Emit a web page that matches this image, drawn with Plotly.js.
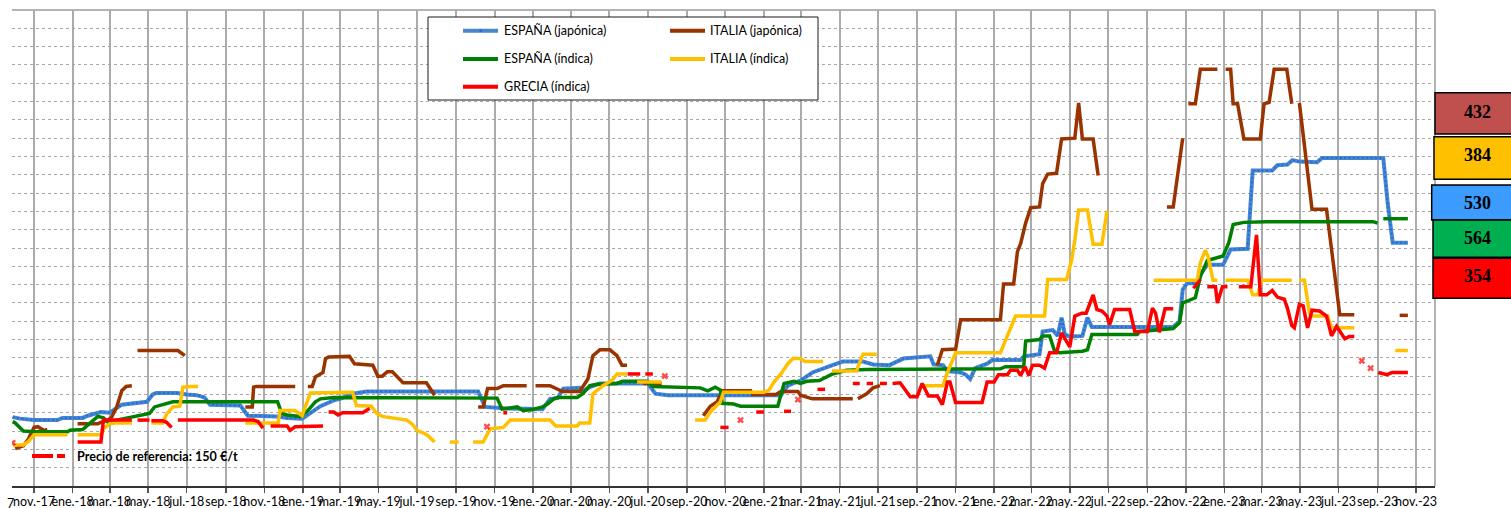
<!DOCTYPE html>
<html>
<head>
<meta charset="utf-8">
<script src="https://cdn.plot.ly/plotly-3.0.1.min.js"></script>
<style>html,body{margin:0;padding:0;background:#fff;overflow:hidden}#chart{width:1511px;height:508px}</style>
</head>
<body>
<div id="chart"></div>
<script>
// ---------------- DATA ----------------
const tickLabels = ["nov.-17","ene.-18","mar.-18","may.-18","jul.-18","sep.-18","nov.-18","ene.-19","mar.-19","may.-19","jul.-19","sep.-19","nov.-19","ene.-20","mar.-20","may.-20","jul.-20","sep.-20","nov.-20","ene.-21","mar.-21","may.-21","jul.-21","sep.-21","nov.-21","ene.-22","mar.-22","may.-22","jul.-22","sep.-22","nov.-22","ene.-23","mar.-23","may.-23","jul.-23","sep.-23","nov.-23"];

const seriesNames = ["ESPAÑA (japónica)","ITALIA (japónica)","ESPAÑA (índica)","ITALIA (índica)","GRECIA (índica)"];
const refLabel = "Precio de referencia: 150 €/t";
const lastValues = ["432","384","530","564","354"];

const espJapDates = ['2017-09-28','2017-10-10','2017-11-01','2017-12-08','2017-12-16','2018-01-17','2018-01-25','2018-02-15','2018-03-01','2018-03-20','2018-04-29','2018-05-08','2018-05-14','2018-06-16','2018-07-01','2018-07-17','2018-07-29','2018-08-07','2018-09-24','2018-10-06','2018-11-22','2018-12-07','2018-12-31','2019-01-13','2019-01-29','2019-02-19','2019-03-01','2019-03-21','2019-04-01','2019-04-12','2019-10-06','2019-10-17','2019-11-21','2020-01-16','2020-01-28','2020-02-09','2020-02-18','2020-03-15','2020-03-20','2020-03-31','2020-04-16','2020-07-01','2020-07-13','2020-08-02','2021-01-28','2021-02-08','2021-02-28','2021-03-19','2021-04-20','2021-05-06','2021-06-07','2021-06-23','2021-07-19','2021-08-10','2021-09-22','2021-09-27','2021-10-12','2021-10-19','2021-11-09','2021-11-17','2021-11-24','2021-12-02','2021-12-21','2021-12-29','2022-02-12','2022-02-17','2022-03-14','2022-03-19','2022-04-04','2022-04-12','2022-04-18','2022-04-23','2022-05-01','2022-05-21','2022-05-29','2022-06-05','2022-10-12','2022-10-15','2022-10-22','2022-10-27','2022-11-03','2022-11-16','2022-11-24','2022-12-05','2022-12-30','2023-01-11','2023-02-07','2023-02-15','2023-03-18','2023-03-26','2023-04-11','2023-04-19','2023-04-30','2023-05-28','2023-06-05','2023-09-10','2023-09-17','2023-09-25','2023-10-19'];
const espJapVals = [294,292,290,290,293,293,296,301,300,311, 315,325,327,327,325,324,321,311,310,296, 295,293,292,300,309,317,319,326,327,329, 329,308,306,305,319,320,333,334,329,335, 340,340,326,324,324,337,344,355,365,370, 370,366,365,374,377,366,365,357,355,352, 346,361,367,372,372,377,380,411,413,405, 430,407,404,405,430,417,417,419,425,468, 477,477,489,502,502,523,524,631,631,638, 639,645,643,642,648,648,586,532,532];

const itaJapDates = ['2017-10-02','2017-10-15','2017-10-23','2017-11-01','2017-11-07','2017-11-16','2017-11-22','2017-12-01','2018-01-09','2018-02-10','2018-02-15','2018-02-26','2018-03-04','2018-03-12','2018-03-20','2018-03-27','2018-04-05','2018-04-10','2018-04-14','2018-06-17','2018-06-28','2018-08-01','2018-10-02','2018-10-13','2018-10-15','2018-10-20','2018-12-20','2018-12-31','2019-01-09','2019-01-16','2019-01-21','2019-02-02','2019-02-06','2019-02-11','2019-03-16','2019-03-24','2019-04-22','2019-04-30','2019-05-07','2019-05-15','2019-05-23','2019-06-09','2019-07-16','2019-07-29','2019-08-15','2019-10-06','2019-10-14','2019-10-21','2019-11-05','2019-11-15','2019-12-22','2019-12-29','2020-01-05','2020-01-28','2020-02-17','2020-03-15','2020-03-28','2020-04-05','2020-04-16','2020-05-02','2020-05-13','2020-05-21','2020-05-29','2020-06-10','2020-06-24','2020-07-23','2020-08-15','2020-09-27','2020-10-08','2020-10-19','2020-10-27','2020-12-11','2020-12-14','2021-01-20','2021-01-28','2021-02-24','2021-02-28','2021-03-19','2021-05-22','2021-05-26','2021-05-30','2021-06-13','2021-06-23','2021-07-04','2021-08-01','2021-10-03','2021-10-11','2021-11-01','2021-11-09','2022-01-11','2022-01-16','2022-02-01','2022-02-07','2022-02-12','2022-02-20','2022-02-28','2022-03-14','2022-03-19','2022-03-27','2022-04-10','2022-04-18','2022-05-09','2022-05-15','2022-05-21','2022-06-07','2022-06-15','2022-07-01','2022-10-02','2022-10-12','2022-10-27','2022-11-01','2022-11-05','2022-11-16','2022-11-24','2022-12-21','2022-12-27','2023-01-03','2023-01-11','2023-01-15','2023-01-22','2023-02-01','2023-02-27','2023-03-05','2023-03-13','2023-03-21','2023-04-10','2023-04-18','2023-04-24','2023-04-30','2023-05-20','2023-06-12','2023-07-03','2023-07-26','2023-08-15','2023-10-06','2023-10-19'];
const itaJapVals = [251,255,264,280,281,276,277,null,285,285,287,290,294,308,330,336,337,null,385,385,378,null,308,308,335,336,336,null,336,336,349,355,374,376,377,367,365,350,350,356,356,341,341,324,null,308,308,333,333,337,337,null,337,337,329,329,346,378,386,386,378,365,365,null,340,340,null,296,309,315,330,330,325,325,329,329,324,319,319,null,319,326,334,337,null,365,386,387,427,427,476,476,520,531,559,580,581,613,626,627,674,675,723,674,674,624,null,581,581,675,null,722,722,769,769,null,769,769,722,722,674,674,722,724,769,769,722,null,723,578,578,434,434,null,433,433];

const espIndDates = ['2017-09-28','2017-10-02','2017-10-15','2017-11-01','2017-12-24','2017-12-28','2018-01-17','2018-01-30','2018-02-10','2018-02-19','2018-03-01','2018-03-12','2018-04-07','2018-05-03','2018-05-11','2018-05-19','2018-05-30','2018-06-09','2018-11-22','2018-11-29','2018-12-07','2018-12-28','2019-01-09','2019-01-21','2019-01-29','2019-02-19','2019-11-05','2019-11-13','2019-12-07','2019-12-16','2019-12-30','2020-01-16','2020-01-24','2020-02-03','2020-02-09','2020-03-11','2020-03-20','2020-03-31','2020-04-12','2020-05-13','2020-05-22','2020-07-01','2020-07-09','2020-09-22','2020-10-04','2020-10-16','2020-10-24','2020-10-27','2020-11-14','2020-11-25','2021-01-23','2021-02-02','2021-02-18','2021-02-28','2021-03-10','2021-03-30','2021-04-20','2021-05-12','2021-06-13','2022-01-11','2022-01-19','2022-02-17','2022-02-20','2022-03-14','2022-03-19','2022-03-30','2022-04-07','2022-04-15','2022-05-21','2022-05-29','2022-06-05','2022-08-16','2022-08-20','2022-10-12','2022-10-22','2022-10-27','2022-11-16','2022-11-24','2022-12-05','2022-12-30','2023-01-08','2023-01-15','2023-02-01','2023-03-09','2023-08-25','2023-09-01','2023-09-05','2023-09-10','2023-10-19'];
const espIndVals = [288,286,275,274,274,276,277,287,295,293, 285,290,295,299,308,310,312,315,315,299, 297,295,303,315,319,321,320,305,308,303, 304,308,312,319,321,321,326,337,339,340, 343,343,336,334,330,335,331,313,312,309, 309,340,343,340,343,344,353,358,359,360, 363,363,398,400,405,405,384,382,384,386, 407,407,411,415,423,450,457,486,508,514, 532,557,560,561,561,559,null,565,565];

const itaIndDates = ['2017-09-28','2017-10-15','2017-10-23','2017-11-01','2017-12-24','2017-12-31','2018-01-09','2018-02-15','2018-02-19','2018-03-01','2018-03-09','2018-04-05','2018-04-20','2018-05-06','2018-05-24','2018-05-30','2018-06-09','2018-06-20','2018-06-25','2018-07-06','2018-07-19','2018-08-15','2018-10-02','2018-11-23','2018-11-26','2018-12-20','2018-12-31','2019-01-09','2019-01-13','2019-03-21','2019-03-27','2019-04-20','2019-04-28','2019-05-07','2019-06-04','2019-06-15','2019-06-24','2019-07-02','2019-07-10','2019-07-18','2019-07-29','2019-08-10','2019-08-22','2019-09-05','2019-09-15','2019-09-28','2019-10-14','2019-10-25','2019-11-15','2019-11-26','2020-01-28','2020-02-06','2020-03-11','2020-03-15','2020-03-31','2020-04-05','2020-04-21','2020-05-06','2020-05-13','2020-05-29','2020-06-06','2020-06-14','2020-07-23','2020-08-15','2020-09-14','2020-09-30','2020-10-08','2020-10-16','2020-10-24','2020-10-29','2021-01-01','2021-01-09','2021-01-17','2021-01-28','2021-02-08','2021-02-16','2021-02-28','2021-03-07','2021-04-05','2021-04-12','2021-04-19','2021-05-28','2021-06-02','2021-06-07','2021-06-29','2021-07-15','2021-09-09','2021-10-12','2021-10-19','2021-11-01','2022-01-11','2022-02-04','2022-03-22','2022-03-27','2022-04-26','2022-05-04','2022-05-09','2022-05-15','2022-05-29','2022-06-07','2022-06-21','2022-06-29','2022-07-15','2022-09-11','2022-11-19','2022-11-24','2022-12-02','2022-12-06','2022-12-14','2022-12-21','2022-12-27','2023-01-03','2023-02-07','2023-02-15','2023-02-23','2023-03-01','2023-04-18','2023-04-24','2023-04-30','2023-05-08','2023-05-16','2023-05-20','2023-06-14','2023-06-20','2023-07-26','2023-08-15','2023-09-29','2023-10-19'];
const itaIndVals = [256,256,261,270,270,null,270,270,278,285,286,286,null,286,286,298,308,309,335,336,336,null,286,286,303,303,296,317,327,328,310,309,299,295,292,290,284,275,273,269,260,null,260,260,null,260,260,278,280,290,290,282,282,286,286,326,337,345,353,353,null,342,342,null,290,290,301,308,315,328,328,331,342,353,367,374,374,370,370,null,357,357,369,380,380,null,337,337,355,382,382,432,432,482,482,509,536,577,577,530,530,576,null,481,481,505,522,514,481,481,null,481,481,461,461,481,481,null,481,481,436,432,432,416,416,null,385,385];

const greDates = ['2017-09-28','2017-10-05','2018-01-09','2018-02-15','2018-02-19','2018-04-05','2018-04-09','2018-04-14','2018-05-03','2018-05-05','2018-05-06','2018-05-24','2018-05-30','2018-06-07','2018-06-12','2018-06-17','2018-10-15','2018-10-22','2018-10-30','2018-11-05','2018-11-11','2018-12-07','2018-12-12','2018-12-20','2019-02-02','2019-02-06','2019-02-11','2019-02-19','2019-02-26','2019-03-05','2019-04-06','2019-04-17','2019-05-01','2019-10-20','2019-11-01','2019-11-15','2019-11-21','2019-12-01','2020-05-30','2020-06-19','2020-06-23','2020-06-27','2020-07-09','2020-07-18','2020-07-28','2020-08-10','2020-10-24','2020-11-06','2020-11-15','2020-11-25','2020-12-10','2020-12-20','2021-01-01','2021-01-15','2021-02-02','2021-02-13','2021-02-18','2021-02-24','2021-03-10','2021-03-27','2021-04-08','2021-05-01','2021-05-22','2021-06-02','2021-06-07','2021-06-13','2021-06-23','2021-06-28','2021-07-04','2021-07-15','2021-07-19','2021-07-24','2021-08-05','2021-08-21','2021-09-01','2021-09-09','2021-09-19','2021-10-03','2021-10-11','2021-10-19','2021-10-23','2021-11-01','2021-12-13','2021-12-21','2022-01-01','2022-01-08','2022-01-22','2022-01-27','2022-02-07','2022-02-12','2022-02-19','2022-02-25','2022-03-03','2022-03-14','2022-03-22','2022-03-30','2022-04-10','2022-04-18','2022-04-23','2022-05-01','2022-05-09','2022-05-20','2022-05-27','2022-06-07','2022-06-13','2022-06-21','2022-06-29','2022-07-03','2022-07-11','2022-08-04','2022-08-12','2022-09-01','2022-09-09','2022-09-14','2022-09-20','2022-09-29','2022-10-12','2022-10-20','2022-11-13','2022-11-24','2022-11-29','2022-12-05','2022-12-18','2022-12-21','2022-12-29','2023-01-06','2023-01-15','2023-01-24','2023-02-12','2023-02-21','2023-02-27','2023-03-09','2023-03-18','2023-03-26','2023-04-06','2023-04-11','2023-04-18','2023-04-22','2023-04-30','2023-05-06','2023-05-13','2023-05-20','2023-06-01','2023-06-12','2023-06-20','2023-06-28','2023-07-11','2023-07-18','2023-07-26','2023-08-01','2023-08-07','2023-08-14','2023-08-21','2023-08-27','2023-09-02','2023-09-16','2023-09-24','2023-10-19'];
const greVals = [259,null,260,260,290,290,null,290,290,null,289,289,287,280,null,290,290,288,279,null,282,282,276,281,282,null,301,301,297,300,300,306,null,281,null,300,300,null,353,353,null,353,353,null,350,null,280,280,null,290,null,301,301,null,302,302,null,318,null,332,332,null,340,340,null,340,340,null,340,340,null,340,341,322,322,340,323,323,311,342,342,314,314,342,342,352,352,358,358,351,363,351,365,365,361,382,382,409,402,390,432,436,436,461,441,439,432,420,441,441,411,411,443,436,410,442,442,null,470,482,null,472,472,450,472,472,null,472,472,543,461,461,467,458,455,443,419,416,448,446,416,440,439,432,405,418,401,404,404,null,371,null,361,null,355,352,355,355];

// ---------------- LAYOUT HELPERS ----------------
const W = 1511, H = 508, ML = 12, MR = 76, MT = 10, MB = 22;
const px = x => (x - ML) / (W - ML - MR);
const py = y => (H - MB - y) / (H - MT - MB);

const tickVals = tickLabels.map((_, i) => {
  const d = new Date(Date.UTC(2017, 10 + 2 * i, 1));
  return d.toISOString().slice(0, 10);
});

// markers only where a point stands alone between gaps
const isolatedSizes = vals => vals.map((v, i) => (v !== null && (i === 0 || vals[i - 1] === null) && (i === vals.length - 1 || vals[i + 1] === null)) ? 6 : 0);

const colors = {espJap: '#4A86C8', espJapDot: '#1A6FF0', itaJap: '#993300', espInd: '#008000', itaInd: '#FFC000', gre: '#FF0000'};
const LW = 3.5;

const traces = [
  {x: espJapDates, y: espJapVals, mode: 'lines', line: {color: colors.espJap, width: 4}},
  {x: espJapDates, y: espJapVals, mode: 'lines', line: {color: colors.espJapDot, width: 2, dash: '2px,2.4px'}},
  {x: itaJapDates, y: itaJapVals, mode: 'lines', line: {color: colors.itaJap, width: LW}},
  {x: espIndDates, y: espIndVals, mode: 'lines', line: {color: colors.espInd, width: LW}},
  {x: itaIndDates, y: itaIndVals, mode: 'lines', line: {color: colors.itaInd, width: LW}},
  {x: greDates, y: greVals, mode: 'lines+markers', line: {color: colors.gre, width: LW}, marker: {symbol: 'x', size: isolatedSizes(greVals), color: colors.gre, line: {width: 0}}}
];
traces.forEach(t => { t.showlegend = false; t.connectgaps = false; t.hoverinfo = 'skip'; });

// legend drawn as shapes / annotations
const shapes = [
  {type: 'line', xref: 'paper', yref: 'paper', x0: 0, x1: 1, y0: 1, y1: 1, line: {color: '#b3b3b3', width: 2}, layer: 'below'},
  {type: 'line', xref: 'paper', yref: 'paper', x0: 1, x1: 1, y0: 0, y1: 1, line: {color: '#b3b3b3', width: 2}, layer: 'below'},
  {type: 'rect', xref: 'paper', yref: 'paper', x0: px(428), x1: px(818), y0: py(100), y1: py(17), line: {color: '#1a1a1a', width: 1}, fillcolor: '#ffffff', layer: 'above'}
];
const annotations = [];
const legendItems = [
  {name: seriesNames[0], color: colors.espJap, lx: 463, tx: 502, y: 30.7},
  {name: seriesNames[1], color: colors.itaJap, lx: 670, tx: 708, y: 30.7},
  {name: seriesNames[2], color: colors.espInd, lx: 463, tx: 502, y: 59},
  {name: seriesNames[3], color: colors.itaInd, lx: 670, tx: 708, y: 59},
  {name: seriesNames[4], color: colors.gre, lx: 463, tx: 502, y: 86.7}
];
legendItems.forEach((it, i) => {
  shapes.push({type: 'line', xref: 'paper', yref: 'paper', x0: px(it.lx), x1: px(it.lx + 35), y0: py(it.y), y1: py(it.y), line: {color: it.color, width: 4}, layer: 'above'});
  if (i === 0) {
    shapes.push({type: 'rect', xref: 'paper', yref: 'paper', x0: px(479.5), x1: px(482), y0: py(32), y1: py(29.5), line: {width: 0}, fillcolor: colors.espJapDot, layer: 'above'});
  }
  annotations.push({xref: 'paper', yref: 'paper', x: px(it.tx), y: py(it.y), xanchor: 'left', yanchor: 'middle', showarrow: false, text: it.name, font: {family: 'Lato', size: 12.5, color: '#000'}});
});

// reference price legend
shapes.push({type: 'line', xref: 'paper', yref: 'paper', x0: px(32), x1: px(66), y0: py(456), y1: py(456), line: {color: '#FF0000', width: 4, dash: '21px,4px,8px,4px'}, layer: 'above'});
annotations.push({xref: 'paper', yref: 'paper', x: px(75), y: py(456), xanchor: 'left', yanchor: 'middle', showarrow: false, text: '<b>' + refLabel + '</b>', font: {family: 'Lato', size: 12.6, color: '#000'}});

// right value boxes
const boxes = [
  {fill: '#C0504D', x0: 1435, y0: 92.7, y1: 134},
  {fill: '#FFC000', x0: 1434, y0: 136.7, y1: 179.3},
  {fill: '#3B9BFF', x0: 1431.7, y0: 185, y1: 220},
  {fill: '#00B050', x0: 1433, y0: 220, y1: 257.3},
  {fill: '#FF0000', x0: 1433, y0: 258.3, y1: 298.3}
];
const textY = [111.5, 155, 203, 238, 276];
boxes.forEach((b, i) => {
  shapes.push({type: 'rect', xref: 'paper', yref: 'paper', x0: px(b.x0), x1: px(1540), y0: py(b.y1), y1: py(b.y0), line: {color: '#000', width: 1.5}, fillcolor: b.fill, layer: 'above'});
  annotations.push({xref: 'paper', yref: 'paper', x: px(1477), y: py(textY[i]), xanchor: 'center', yanchor: 'middle', showarrow: false, text: '<b>' + lastValues[i] + '</b>', font: {family: 'Liberation Serif', size: 18, color: '#000'}});
});

// fragment of previous tick label at the left edge
annotations.push({xref: 'paper', yref: 'paper', x: px(16), y: py(494), xanchor: 'right', yanchor: 'top', showarrow: false, text: '7', font: {family: 'Lato', size: 12.5, color: '#000'}});

const layout = {
  width: W, height: H,
  margin: {l: ML, r: MR, t: MT, b: MB, pad: 0},
  paper_bgcolor: '#fff', plot_bgcolor: '#fff',
  font: {family: 'Lato', color: '#000'},
  showlegend: false,
  xaxis: {
    type: 'date', range: ['2017-09-27', '2023-12-01'],
    tickmode: 'array', tickvals: tickVals, ticktext: tickLabels, tickangle: 0,
    showgrid: true, gridcolor: '#ababab', gridwidth: 2,
    showline: true, linecolor: '#333', linewidth: 1.5,
    ticks: 'outside', ticklen: 5, tickcolor: '#555', tickwidth: 1.5,
    tickfont: {family: 'Lato', size: 12.5, color: '#000'}, ticklabelstandoff: -2,
    zeroline: false, fixedrange: true
  },
  yaxis: {
    range: [200, 850], dtick: 25, tick0: 200,
    showgrid: true, gridcolor: '#a6a6a6', gridwidth: 1, griddash: 'dot',
    showticklabels: false, ticks: '', zeroline: false, showline: false, fixedrange: true
  },
  shapes: shapes,
  annotations: annotations
};

Plotly.newPlot('chart', traces, layout, {displayModeBar: false, staticPlot: true});
</script>
</body>
</html>
